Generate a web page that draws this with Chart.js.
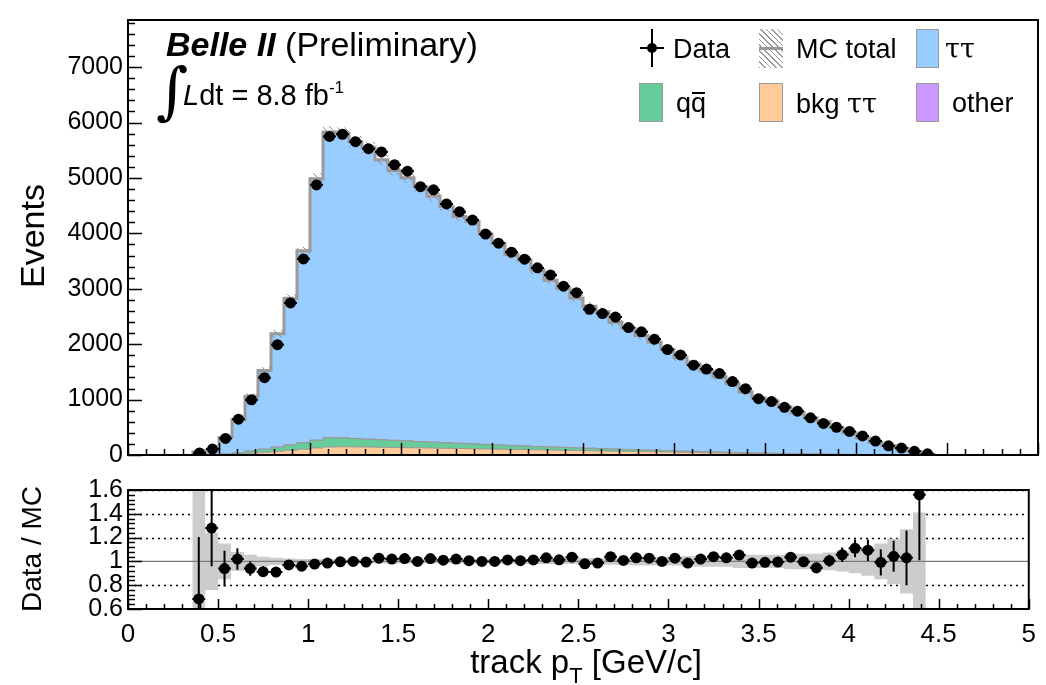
<!DOCTYPE html>
<html>
<head>
<meta charset="utf-8">
<script src="https://cdn.jsdelivr.net/npm/chart.js@4.4.1/dist/chart.umd.min.js"></script>
<style>
  html, body { margin: 0; padding: 0; background: #fff; }
  #wrap { position: relative; width: 1046px; height: 685px; overflow: hidden;
          font-family: "Liberation Sans", Arial, Helvetica, sans-serif; color: #000; }
  #topCanvas { position: absolute; left: 0; top: 0; }
  #ratioCanvas { position: absolute; left: 0; top: 470px; }
  .txt { position: absolute; white-space: nowrap; line-height: 1; }
  .tau { font-family: "DejaVu Serif", "Liberation Serif", serif; }
  .box { position: absolute; box-sizing: border-box; border: 1.5px solid #9a9a9a; }
  .ctr { transform: translate(-50%, -50%); }
  .rot { transform: translate(-50%, -50%) rotate(-90deg); }
</style>
</head>
<body>
<div id="wrap">
  <canvas id="topCanvas" width="1046" height="475"></canvas>
  <canvas id="ratioCanvas" width="1046" height="215"></canvas>

  <div class="txt" style="left:166px;top:27px;font-size:34px"><b><i>Belle II</i></b> (Preliminary)</div>
  <div class="txt" style="left:156px;top:60px;font-size:62px;font-family:'DejaVu Serif',serif">&#8747;</div>
  <div class="txt" style="left:183px;top:81px;font-size:29px"><i>L</i>dt = 8.8 fb<span style="position:relative;top:-12px;font-size:17px">-1</span></div>

  <div class="txt rot" style="left:32px;top:236px;font-size:34px">Events</div>
  <div class="txt rot" style="left:32px;top:549px;font-size:28px">Data / MC</div>
  <div class="txt ctr" style="left:586px;top:661px;font-size:33px">track p<span style="position:relative;top:10px;font-size:22px">T</span> [GeV/c]</div>

  <!-- legend -->
  <div style="position:absolute;left:651px;top:29px;width:2px;height:38px;background:#000"></div>
  <div style="position:absolute;left:640px;top:47px;width:24px;height:2px;background:#000"></div>
  <div style="position:absolute;left:647px;top:43px;width:10px;height:10px;border-radius:50%;background:#000"></div>
  <div class="txt" style="left:673px;top:36px;font-size:27px">Data</div>

  <div style="position:absolute;left:759px;top:29px;width:24px;height:39px;background:repeating-linear-gradient(45deg,#9a9a9a 0 1px,#fff 1px 4px)"></div>
  <div style="position:absolute;left:759px;top:47px;width:24px;height:3px;background:#9a9a9a"></div>
  <div class="txt" style="left:796px;top:36px;font-size:27px">MC total</div>

  <div class="box" style="left:916px;top:29px;width:23px;height:39px;background:#99ccff"></div>
  <div class="txt tau" style="left:945px;top:35px;font-size:27px">&tau;&tau;</div>

  <div class="box" style="left:639px;top:83px;width:24px;height:39px;background:#66cc99"></div>
  <div class="txt" style="left:676px;top:90px;font-size:27px">q<span style="position:relative">q<span style="position:absolute;left:1px;right:1px;top:4px;height:2px;background:#000"></span></span></div>

  <div class="box" style="left:759px;top:83px;width:24px;height:39px;background:#ffcc99"></div>
  <div class="txt" style="left:796px;top:90px;font-size:27px">bkg <span class="tau">&tau;&tau;</span></div>

  <div class="box" style="left:916px;top:83px;width:23px;height:39px;background:#cc99ff"></div>
  <div class="txt" style="left:952px;top:90px;font-size:27px">other</div>
</div>

<script>
// binning: 70 bins over 0..5 GeV/c, filled bins start at index 5 (0.357 GeV/c)
var BIN_COUNT = 70;
var X_MIN = 0;
var X_MAX = 5;
var FIRST_BIN = 5;

var dataEvents = [38, 108, 299, 647, 995, 1395, 1991, 2744, 3539, 4873,
  5748, 5788, 5655, 5527, 5470, 5238, 5122, 4843, 4786, 4530,
  4391, 4240, 3986, 3823, 3661, 3534, 3377, 3249, 3047, 2930,
  2630, 2553, 2490, 2299, 2223, 2090, 1904, 1805, 1621, 1551,
  1470, 1325, 1197, 1017, 965, 861, 791, 670, 570, 501,
  426, 344, 252, 165, 125, 66, 21];

var mcTauTau = [55, 79, 299, 593, 986, 1421, 2044, 2645, 3460, 4714,
  5516, 5493, 5355, 5268, 5050, 4869, 4747, 4601, 4442, 4263,
  4093, 4013, 3794, 3640, 3444, 3348, 3182, 3007, 2869, 2700,
  2561, 2474, 2286, 2180, 2064, 1948, 1825, 1686, 1578, 1461,
  1359, 1238, 1095, 995, 941, 838, 741, 653, 587, 485,
  393, 302, 224, 161, 117, 62, 13];

var mcQQbar = [0, 3, 10, 22, 38, 55, 75, 95, 118, 140,
  165, 160, 150, 140, 132, 125, 118, 110, 104, 98,
  92, 86, 80, 75, 70, 65, 60, 56, 52, 48,
  44, 40, 37, 34, 31, 28, 25, 22, 20, 18,
  16, 14, 12, 10, 9, 8, 7, 6, 5, 4,
  3, 3, 2, 2, 1, 1, 0];

var mcBkgTauTau = [0, 2, 8, 18, 32, 48, 66, 86, 105, 125,
  145, 148, 146, 143, 140, 137, 133, 129, 125, 121,
  117, 113, 109, 105, 101, 97, 93, 89, 85, 81,
  77, 73, 69, 65, 61, 57, 53, 49, 45, 41,
  37, 33, 29, 25, 22, 19, 16, 13, 11, 9,
  7, 5, 4, 3, 2, 1, 0];

var mcOther = [0, 0, 1, 1, 2, 2, 3, 3, 3, 4,
  4, 4, 4, 4, 4, 4, 4, 3, 3, 3,
  3, 3, 3, 3, 3, 3, 2, 2, 2, 2,
  2, 2, 2, 2, 2, 2, 1, 1, 1, 1,
  1, 1, 1, 1, 1, 0, 0, 0, 0, 0,
  0, 0, 0, 0, 0, 0, 0];

// relative MC uncertainty (half width of the grey band in the ratio)
var mcRelUnc = [0.7, 0.24, 0.15, 0.08, 0.055, 0.04, 0.03, 0.025, 0.02, 0.02,
  0.018, 0.018, 0.018, 0.018, 0.018, 0.018, 0.018, 0.018, 0.018, 0.018,
  0.018, 0.018, 0.018, 0.018, 0.022, 0.022, 0.022, 0.022, 0.022, 0.022,
  0.028, 0.028, 0.028, 0.028, 0.035, 0.035, 0.035, 0.035, 0.045, 0.045,
  0.045, 0.045, 0.055, 0.055, 0.055, 0.055, 0.065, 0.065, 0.065, 0.075,
  0.085, 0.1, 0.12, 0.15, 0.19, 0.27, 0.41];

var ratioValues = [0.685, 1.28, 0.94, 1.02, 0.94, 0.914, 0.91, 0.97, 0.96, 0.978,
  0.986, 0.997, 1.0, 0.995, 1.027, 1.02, 1.024, 1.0, 1.024, 1.01,
  1.02, 1.006, 1.0, 1.0, 1.012, 1.006, 1.012, 1.03, 1.013, 1.035,
  0.98, 0.986, 1.04, 1.008, 1.03, 1.027, 1.0, 1.027, 0.986, 1.02,
  1.04, 1.03, 1.053, 0.986, 0.992, 0.995, 1.035, 0.997, 0.946, 1.006,
  1.056, 1.11, 1.094, 0.992, 1.043, 1.03, 1.56];

var ratioErrors = [0.52, 0.32, 0.15, 0.09, 0.06, 0.045, 0.035, 0.03, 0.025, 0.02,
  0.02, 0.02, 0.02, 0.02, 0.02, 0.02, 0.02, 0.02, 0.02, 0.02,
  0.02, 0.02, 0.02, 0.02, 0.02, 0.02, 0.02, 0.02, 0.02, 0.02,
  0.02, 0.02, 0.022, 0.022, 0.022, 0.025, 0.025, 0.025, 0.025, 0.028,
  0.028, 0.03, 0.03, 0.032, 0.032, 0.035, 0.04, 0.04, 0.045, 0.05,
  0.06, 0.075, 0.09, 0.11, 0.13, 0.23, 0.55];

var eventsTicks = [0, 1000, 2000, 3000, 4000, 5000, 6000, 7000];
var ratioTicks = [0.6, 0.8, 1, 1.2, 1.4, 1.6];
var ptTicks = [0, 0.5, 1, 1.5, 2, 2.5, 3, 3.5, 4, 4.5, 5];

var EVENTS_MAX = 7850;
var RATIO_MIN = 0.6;
var RATIO_MAX = 1.6;

var FONT = '"Liberation Sans", Arial, Helvetica, sans-serif';
var GREY_LINE = '#9a9a9a';

function binEdges(i) {
  var w = (X_MAX - X_MIN) / BIN_COUNT;
  return [X_MIN + (FIRST_BIN + i) * w, X_MIN + (FIRST_BIN + i + 1) * w];
}

function binCenterPoints(values) {
  return values.map(function (v, i) {
    var e = binEdges(i);
    return { x: (e[0] + e[1]) / 2, y: v };
  });
}

// histogram outline as a polyline: flat top over each bin
function stepPoints(values, closeToZero) {
  var pts = [];
  var last = values.length - 1;
  if (closeToZero) pts.push({ x: binEdges(0)[0], y: 0 });
  for (var i = 0; i < values.length; i += 1) {
    var e = binEdges(i);
    pts.push({ x: e[0], y: values[i] });
    pts.push({ x: e[1], y: values[i] });
  }
  if (closeToZero) pts.push({ x: binEdges(last)[1], y: 0 });
  return pts;
}

function cumulative(layers) {
  return layers[0].map(function (_, i) {
    var s = 0;
    for (var k = 0; k < layers.length; k += 1) s += layers[k][i];
    return s;
  });
}

function fixedTicks(values) {
  return function (scale) {
    scale.ticks = values.map(function (v) { return { value: v }; });
  };
}

function hatchPattern(ctx) {
  var s = 7;
  var c = document.createElement('canvas');
  c.width = s;
  c.height = s;
  var g = c.getContext('2d');
  g.strokeStyle = '#8c8c8c';
  g.lineWidth = 1;
  for (var k = -1; k <= 1; k += 1) {
    g.beginPath();
    g.moveTo(k * s, 0);
    g.lineTo(k * s + s, s);
    g.stroke();
  }
  return ctx.createPattern(c, 'repeat');
}

function clipToArea(ctx, a) {
  ctx.beginPath();
  ctx.rect(a.left, a.top, a.right - a.left, a.bottom - a.top);
  ctx.clip();
}

function drawErrorBars(chart, values, errors) {
  var xs = chart.scales.x;
  var ys = chart.scales.y;
  var ctx = chart.ctx;
  ctx.save();
  clipToArea(ctx, chart.chartArea);
  ctx.strokeStyle = '#000';
  ctx.lineWidth = 2;
  for (var i = 0; i < values.length; i += 1) {
    var e = binEdges(i);
    var yc = ys.getPixelForValue(values[i]);
    var xc = xs.getPixelForValue((e[0] + e[1]) / 2);
    ctx.beginPath();
    ctx.moveTo(xs.getPixelForValue(e[0]), yc);
    ctx.lineTo(xs.getPixelForValue(e[1]), yc);
    if (errors) {
      ctx.moveTo(xc, ys.getPixelForValue(values[i] + errors[i]));
      ctx.lineTo(xc, ys.getPixelForValue(values[i] - errors[i]));
    }
    ctx.stroke();
  }
  ctx.restore();
}

// ROOT style frame with ticks pointing into the pad
var frameTicksPlugin = {
  id: 'frameTicks',
  afterDraw: function (chart, args, opts) {
    var ctx = chart.ctx;
    var a = chart.chartArea;
    var xs = chart.scales.x;
    var ys = chart.scales.y;
    ctx.save();
    ctx.strokeStyle = '#000';
    ctx.lineWidth = 1.5;
    ctx.beginPath();
    var n, k, v, p, major;
    n = Math.floor((ys.max - ys.min) / opts.yMinor + 1e-6);
    for (k = 0; k <= n; k += 1) {
      v = ys.min + k * opts.yMinor;
      major = Math.abs(v / opts.yMajor - Math.round(v / opts.yMajor)) < 1e-6;
      p = Math.round(ys.getPixelForValue(v)) + 0.5;
      ctx.moveTo(a.left, p);
      ctx.lineTo(a.left + (major ? opts.yMajorLen : opts.yMinorLen), p);
    }
    n = Math.floor((xs.max - xs.min) / opts.xMinor + 1e-6);
    for (k = 0; k <= n; k += 1) {
      v = xs.min + k * opts.xMinor;
      major = Math.abs(v / opts.xMajor - Math.round(v / opts.xMajor)) < 1e-6;
      p = Math.round(xs.getPixelForValue(v)) + 0.5;
      ctx.moveTo(p, a.bottom);
      ctx.lineTo(p, a.bottom - (major ? opts.xMajorLen : opts.xMinorLen));
    }
    ctx.stroke();
    ctx.lineWidth = 2;
    ctx.strokeRect(a.left, a.top, a.right - a.left, a.bottom - a.top);
    ctx.restore();
  },
};

var topErrPlugin = {
  id: 'topErr',
  afterDatasetsDraw: function (chart) {
    drawErrorBars(chart, dataEvents, null);
  },
};

var ratioDecorPlugin = {
  id: 'ratioDecor',
  beforeDatasetsDraw: function (chart) {
    var ctx = chart.ctx;
    var a = chart.chartArea;
    var ys = chart.scales.y;
    ctx.save();
    ctx.strokeStyle = '#000';
    ctx.lineWidth = 1.5;
    ctx.setLineDash([2, 4]);
    ys.ticks.forEach(function (t) {
      if (Math.abs(t.value - 1) < 1e-6 || Math.abs(t.value - RATIO_MIN) < 1e-6) return;
      var p = Math.round(ys.getPixelForValue(t.value)) + 0.5;
      ctx.beginPath();
      ctx.moveTo(a.left, p);
      ctx.lineTo(a.right, p);
      ctx.stroke();
    });
    ctx.restore();
  },
  afterDatasetsDraw: function (chart) {
    drawErrorBars(chart, ratioValues, ratioErrors);
  },
};

var cumBkg = cumulative([mcBkgTauTau]);
var cumQQ = cumulative([mcBkgTauTau, mcQQbar]);
var cumOther = cumulative([mcBkgTauTau, mcQQbar, mcOther]);
var mcTotal = cumulative([mcBkgTauTau, mcQQbar, mcOther, mcTauTau]);
var mcUp = mcTotal.map(function (v, i) { return v * (1 + mcRelUnc[i]); });
var mcDown = mcTotal.map(function (v, i) { return v * (1 - mcRelUnc[i]); });
var bandUp = mcRelUnc.map(function (u) { return 1 + u; });
var bandDown = mcRelUnc.map(function (u) { return 1 - u; });

function stackLayer(values, color) {
  return {
    data: stepPoints(values, true),
    borderColor: GREY_LINE,
    borderWidth: 1,
    backgroundColor: color,
    fill: 'origin',
    pointRadius: 0,
  };
}

function yAxisWidth(scale) {
  scale.width = 128;
}

function plainNumber(v) {
  return String(Math.round(v * 10) / 10);
}

var tickFont = { family: FONT, size: 25 };

var topCtx = document.getElementById('topCanvas').getContext('2d');
var topChart = new Chart(topCtx, {
  type: 'line',
  data: {
    datasets: [
      {
        data: binCenterPoints(dataEvents),
        showLine: false,
        pointRadius: 5.5,
        pointBackgroundColor: '#000',
        pointBorderWidth: 0,
      },
      {
        data: stepPoints(mcTotal, true),
        borderColor: GREY_LINE,
        borderWidth: 3,
        fill: false,
        pointRadius: 0,
      },
      {
        data: stepPoints(mcUp, false),
        borderWidth: 0,
        backgroundColor: hatchPattern(topCtx),
        fill: 3,
        pointRadius: 0,
      },
      {
        data: stepPoints(mcDown, false),
        borderWidth: 0,
        fill: false,
        pointRadius: 0,
      },
      stackLayer(cumBkg, '#ffcc99'),
      stackLayer(cumQQ, '#66cc99'),
      stackLayer(cumOther, '#cc99ff'),
      stackLayer(mcTotal, '#99ccff'),
    ],
  },
  options: {
    responsive: false,
    animation: false,
    events: [],
    layout: { padding: { top: 13, right: 8, bottom: 10, left: 0 } },
    plugins: {
      legend: { display: false },
      tooltip: { enabled: false },
      frameTicks: { yMajor: 1000, yMinor: 200, yMajorLen: 14, yMinorLen: 7, xMajor: 0.5, xMinor: 0.1, xMajorLen: 12, xMinorLen: 6 },
    },
    scales: {
      x: { type: 'linear', min: X_MIN, max: X_MAX, display: false },
      y: {
        type: 'linear',
        min: 0,
        max: EVENTS_MAX,
        afterFit: yAxisWidth,
        afterBuildTicks: fixedTicks(eventsTicks),
        grid: { display: false, drawTicks: false },
        border: { display: false },
        ticks: { autoSkip: false, color: '#000', font: tickFont, padding: 5, callback: plainNumber },
      },
    },
  },
  plugins: [frameTicksPlugin, topErrPlugin],
});

var ratioChart = new Chart(document.getElementById('ratioCanvas'), {
  type: 'line',
  data: {
    datasets: [
      {
        data: binCenterPoints(ratioValues),
        showLine: false,
        pointRadius: 5.5,
        pointBackgroundColor: '#000',
        pointBorderWidth: 0,
      },
      {
        data: [{ x: X_MIN, y: 1 }, { x: X_MAX, y: 1 }],
        borderColor: '#7a7a7a',
        borderWidth: 1.3,
        fill: false,
        pointRadius: 0,
      },
      {
        data: stepPoints(bandUp, false),
        borderWidth: 0,
        backgroundColor: '#cccccc',
        fill: 3,
        pointRadius: 0,
      },
      {
        data: stepPoints(bandDown, false),
        borderWidth: 0,
        fill: false,
        pointRadius: 0,
      },
    ],
  },
  options: {
    responsive: false,
    animation: false,
    events: [],
    layout: { padding: { top: 15, right: 8, bottom: 0, left: 0 } },
    plugins: {
      legend: { display: false },
      tooltip: { enabled: false },
      frameTicks: { yMajor: 0.2, yMinor: 0.04, yMajorLen: 14, yMinorLen: 7, xMajor: 0.5, xMinor: 0.1, xMajorLen: 10, xMinorLen: 5 },
    },
    scales: {
      x: {
        type: 'linear',
        min: X_MIN,
        max: X_MAX,
        afterFit: function (scale) { scale.height = 76; },
        afterBuildTicks: fixedTicks(ptTicks),
        grid: { display: false, drawTicks: false },
        border: { display: false },
        ticks: {
          autoSkip: false,
          color: '#000',
          font: { family: FONT, size: 26 },
          padding: 10,
          maxRotation: 0,
          callback: plainNumber,
        },
      },
      y: {
        type: 'linear',
        min: RATIO_MIN,
        max: RATIO_MAX,
        afterFit: yAxisWidth,
        afterBuildTicks: fixedTicks(ratioTicks),
        grid: { display: false, drawTicks: false },
        border: { display: false },
        ticks: { autoSkip: false, color: '#000', font: tickFont, padding: 5, callback: plainNumber },
      },
    },
  },
  plugins: [frameTicksPlugin, ratioDecorPlugin],
});
</script>
</body>
</html>
